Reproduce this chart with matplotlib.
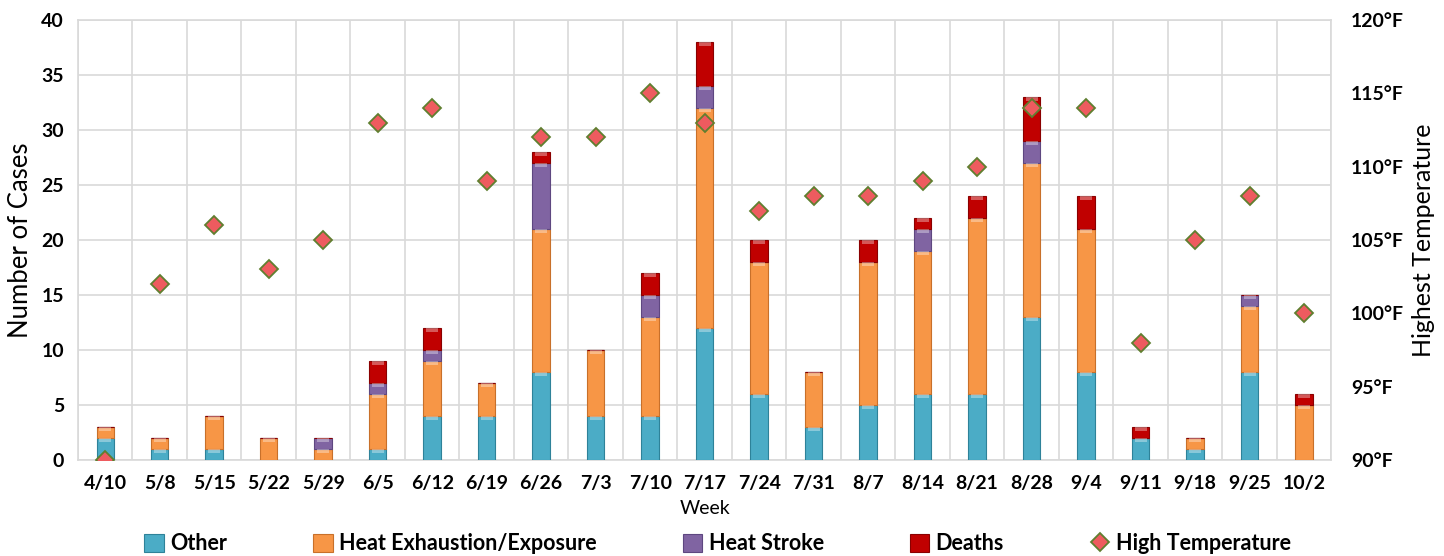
import matplotlib
matplotlib.use("Agg")
import matplotlib.pyplot as plt
import numpy as np
from matplotlib.ticker import FuncFormatter, MultipleLocator

weeks = ["4/10", "5/8", "5/15", "5/22", "5/29", "6/5", "6/12", "6/19", "6/26", "7/3",
         "7/10", "7/17", "7/24", "7/31", "8/7", "8/14", "8/21", "8/28", "9/4", "9/11",
         "9/18", "9/25", "10/2"]
other = [2, 1, 1, 0, 0, 1, 4, 4, 8, 4, 4, 12, 6, 3, 5, 6, 6, 13, 8, 2, 1, 8, 0]
heat_exhaustion = [1, 1, 3, 2, 1, 5, 5, 3, 13, 6, 9, 20, 12, 5, 13, 13, 16, 14, 13, 0, 1, 6, 5]
heat_stroke = [0, 0, 0, 0, 1, 1, 1, 0, 6, 0, 2, 2, 0, 0, 0, 2, 0, 2, 0, 0, 0, 1, 0]
deaths = [0, 0, 0, 0, 0, 2, 2, 0, 1, 0, 2, 4, 2, 0, 2, 1, 2, 4, 3, 1, 0, 0, 1]
high_temp = [90, 102, 106, 103, 105, 113, 114, 109, 112, 112, 115, 113, 107, 108, 108,
             109, 110, 114, 114, 98, 105, 108, 100]

series = [("Other", other, "#4BACC6", "#2E8299"),
          ("Heat Exhaustion/Exposure", heat_exhaustion, "#F79646", "#C8702A"),
          ("Heat Stroke", heat_stroke, "#8064A2", "#5E4780"),
          ("Deaths", deaths, "#C00000", "#8A0000")]

FONT = ["Lato", "DejaVu Sans"]
plt.rcParams["font.family"] = FONT

fig = plt.figure(figsize=(14.44, 5.56), dpi=100)
ax = fig.add_axes([0.054, 0.173, 0.868, 0.791])
ax2 = ax.twinx()

x = np.arange(len(weeks))
bottom = np.zeros(len(weeks))
bw = 0.32
handles = []
for name, vals, col, edge in series:
    v = np.array(vals, dtype=float)
    b = ax.bar(x, v, bw, bottom=bottom, color=col, edgecolor=edge, linewidth=0.8, zorder=3,
               label=name)
    mask = v > 0
    hh = np.minimum(v[mask], 0.35)
    ax.bar(x[mask], hh, bw * 0.7, bottom=bottom[mask] + v[mask] - hh,
           color="white", alpha=0.35, linewidth=0, zorder=4)
    handles.append(b)
    bottom += v

ax.set_xlim(-0.5, len(weeks) - 0.5)
ax.set_ylim(0, 40)
ax.yaxis.set_major_locator(MultipleLocator(5))
ax.set_xticks(x)
ax.set_xticklabels(weeks, fontsize=14, fontweight="bold")
ax.set_xticks(np.arange(-0.5, len(weeks), 1.0), minor=True)
ax.tick_params(axis="x", which="both", length=0, pad=11)
ax.tick_params(axis="y", length=0, labelsize=14, pad=10)
for lab in ax.get_yticklabels():
    lab.set_fontweight("bold")
ax.grid(True, axis="y", which="major", color="#D9D9D9", linewidth=1.2, zorder=0)
ax.grid(True, axis="x", which="minor", color="#D9D9D9", linewidth=1.2, zorder=0)
ax.set_axisbelow(True)
for sp in ax.spines.values():
    sp.set_color("#D9D9D9")
    sp.set_linewidth(1.2)
ax.set_ylabel("Number of Cases", fontsize=18.5, labelpad=6)
ax.set_xlabel("Week", fontsize=14, labelpad=6)

temp_line, = ax2.plot(x, high_temp, linestyle="none", marker="D", markersize=9,
                      markerfacecolor="#EE5B5F", markeredgecolor="#5F7F2F",
                      markeredgewidth=1.3, zorder=5, label="High Temperature")
ax2.set_ylim(90, 120)
ax2.yaxis.set_major_locator(MultipleLocator(5))
ax2.yaxis.set_major_formatter(FuncFormatter(lambda v, p: f"{int(v)}°F"))
ax2.tick_params(axis="y", length=0, labelsize=14, pad=14)
for lab in ax2.get_yticklabels():
    lab.set_fontweight("bold")
for sp in ax2.spines.values():
    sp.set_visible(False)
ax2.set_ylabel("Highest Temperature", fontsize=18, labelpad=6)

fig.legend(handles + [temp_line], [s[0] for s in series] + ["High Temperature"],
           loc="center", bbox_to_anchor=(0.497, 0.022), ncol=5, frameon=False,
           prop={"family": FONT, "weight": "bold", "size": 15.5},
           handlelength=0.9, handleheight=0.9, handletextpad=0.3, columnspacing=4.0)

fig.savefig("out.png", dpi=100)
